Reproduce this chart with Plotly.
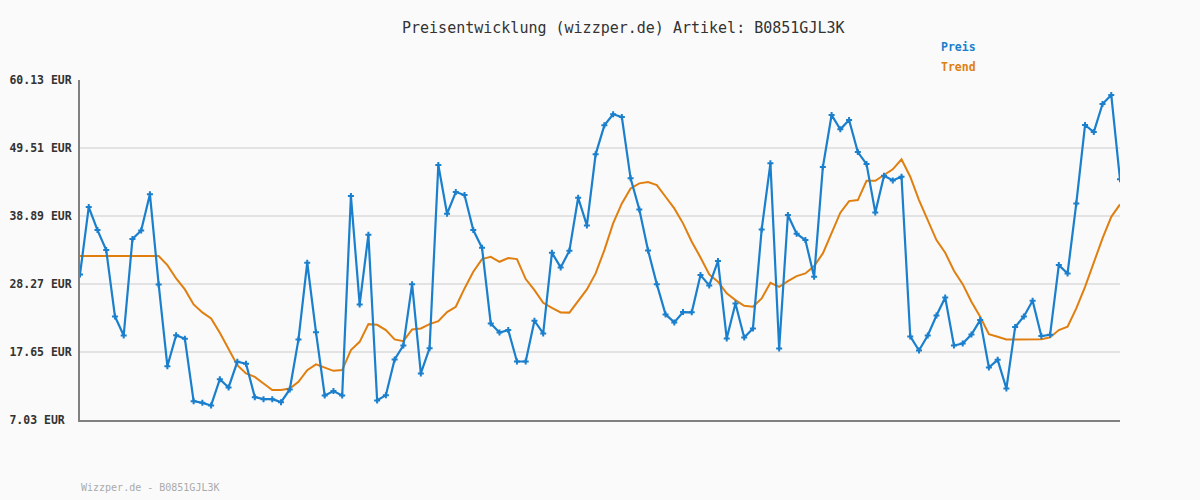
import plotly.graph_objects as go

preis = [29.77, 40.29, 36.69, 33.57, 23.2, 20.23, 35.29, 36.64, 42.27, 28.2,
         15.44, 20.28, 19.71, 9.97, 9.71, 9.3, 13.41, 12.11, 16.12, 15.81,
         10.6, 10.29, 10.29, 9.82, 11.8, 19.61, 31.59, 20.75, 10.86, 11.54,
         10.86, 42.0, 25.08, 35.96, 10.08, 10.91, 16.48, 18.67, 28.25, 14.3,
         18.25, 46.85, 39.24, 42.63, 42.16, 36.69, 33.93, 22.11, 20.7, 21.07,
         16.17, 16.17, 22.53, 20.55, 33.15, 30.86, 33.46, 41.74, 37.42, 48.52,
         53.05, 54.77, 54.35, 44.77, 39.92, 33.52, 28.25, 23.52, 22.27, 23.88,
         23.85, 29.66, 28.05, 31.85, 19.77, 25.23, 19.93, 21.33, 36.8, 47.11,
         18.2, 39.04, 36.12, 35.13, 29.4, 46.54, 54.66, 52.42, 53.88, 48.88,
         47.0, 39.45, 45.18, 44.45, 45.03, 20.08, 17.89, 20.23, 23.36, 26.17,
         18.67, 18.98, 20.39, 22.63, 15.23, 16.43, 11.95, 21.54, 23.2, 25.65,
         20.13, 20.34, 31.22, 29.92, 40.86, 53.1, 52.0, 56.38, 57.79, 44.61]

trend = [32.63, 32.63, 32.63, 32.63, 32.63, 32.63, 32.63, 32.63, 32.63, 32.63,
         31.22, 29.14, 27.42, 25.08, 23.83, 22.89, 20.65, 18.2, 15.6, 14.3,
         13.77, 12.74, 11.7, 11.7, 11.95, 13.0, 14.82, 15.71, 15.23, 14.71,
         14.82, 17.94, 19.24, 22.0, 21.9, 21.07, 19.61, 19.35, 21.17, 21.33,
         22.0, 22.47, 23.88, 24.71, 27.58, 30.18, 32.16, 32.52, 31.74, 32.32,
         32.16, 29.04, 27.32, 25.34, 24.55, 23.83, 23.8, 25.65, 27.42, 29.92,
         33.57, 37.74, 40.86, 43.2, 43.99, 44.19, 43.72, 41.9, 40.08, 37.74,
         34.87, 32.42, 29.77, 28.62, 26.8, 25.76, 24.87, 24.71, 26.02, 28.46,
         27.83, 28.72, 29.5, 29.92, 31.07, 33.05, 36.18, 39.4, 41.22, 41.38,
         44.4, 44.4, 45.29, 46.18, 47.74, 45.03, 41.38, 38.26, 35.13, 33.15,
         30.34, 28.25, 25.49, 23.15, 20.44, 20.02, 19.61, 19.61, 19.61, 19.61,
         19.66, 19.93, 21.07, 21.59, 24.46, 27.83, 31.74, 35.4, 38.76, 40.7]

tick_vals = [7.03, 17.65, 28.27, 38.89, 49.51, 60.13]
tick_text = ["7.03 EUR", "17.65 EUR", "28.27 EUR", "38.89 EUR", "49.51 EUR", "60.13 EUR"]

title_text = "Preisentwicklung (wizzper.de) Artikel: B0851GJL3K"
footer_text = "Wizzper.de - B0851GJL3K"

BLUE = "#1a7fcc"
ORANGE = "#e07f10"
MONO = "DejaVu Sans Mono, Liberation Mono, monospace"

x = list(range(len(preis)))
# pad labels so that, right-aligned in a monospace font, they line up on the left
maxlen = max(len(t) for t in tick_text)
tick_labels = [t + "\u00a0" * (maxlen - len(t)) for t in tick_text]

fig = go.Figure()
fig.add_trace(go.Scatter(
    x=x, y=trend, mode="lines", name="Trend",
    line=dict(color=ORANGE, width=2), showlegend=False,
))
fig.add_trace(go.Scatter(
    x=x, y=preis, mode="lines+markers", name="Preis",
    line=dict(color=BLUE, width=2.2),
    marker=dict(symbol="cross", size=5, color=BLUE, line=dict(width=0)),
    showlegend=False,
))

W, H = 1200, 500
L, R, T, B = 80, 80, 80, 80
pw, ph = W - L - R, H - T - B


def px(xp):
    return (xp - L) / pw


def py(yp):
    return (H - B - yp) / ph


fig.update_layout(
    width=W, height=H,
    margin=dict(l=L, r=R, t=T, b=B, autoexpand=False),
    paper_bgcolor="#fafafa", plot_bgcolor="#fafafa",
    font=dict(family=MONO, color="#333333"),
    xaxis=dict(range=[0, len(preis) - 1], showticklabels=False, showgrid=False,
               zeroline=False, showline=True, linecolor="#808080", linewidth=2,
               ticks="", automargin=False),
    yaxis=dict(range=[7.03, 60.13], tickvals=tick_vals, ticktext=tick_labels,
               showgrid=True, gridcolor="#e3e3e3", gridwidth=2, zeroline=False,
               showline=True, linecolor="#808080", linewidth=2, ticks="",
               ticklabelstandoff=4, automargin=False,
               tickfont=dict(family=MONO, size=11.5, color="#333333", weight="bold")),
    annotations=[
        dict(text=title_text, x=px(623), y=py(28), xref="paper", yref="paper",
             xanchor="center", yanchor="middle",
             showarrow=False, font=dict(family=MONO, size=15, color="#333333")),
        dict(text="<b>Preis</b>", x=px(939), y=py(47), xref="paper", yref="paper",
             xanchor="left", yanchor="middle",
             showarrow=False, font=dict(family=MONO, size=11.5, color=BLUE)),
        dict(text="<b>Trend</b>", x=px(939), y=py(67), xref="paper", yref="paper",
             xanchor="left", yanchor="middle",
             showarrow=False, font=dict(family=MONO, size=11.5, color=ORANGE)),
        dict(text=footer_text, x=px(79), y=py(487), xref="paper", yref="paper",
             xanchor="left", yanchor="middle",
             showarrow=False, font=dict(family=MONO, size=10, color="#aaaaaa")),
    ],
)

fig.write_html(
    "out.html",
    config={"displayModeBar": False},
    post_script="document.body.style.margin='0';document.body.style.background='#fafafa';",
)
